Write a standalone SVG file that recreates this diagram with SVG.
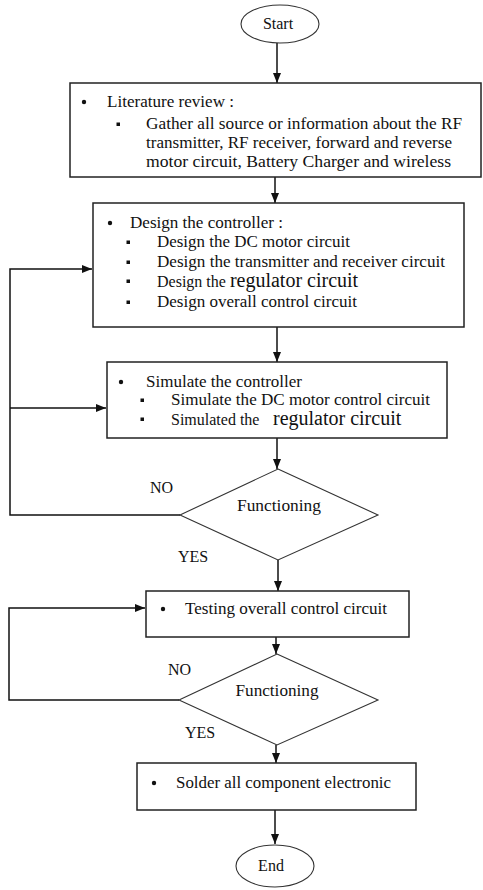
<svg xmlns="http://www.w3.org/2000/svg" width="483" height="890" viewBox="0 0 483 890">
<style>
.box{fill:#fff;stroke:#222;stroke-width:1.5}
.dia{fill:#fff;stroke:#333;stroke-width:1.1}
.term{fill:#fff;stroke:#333;stroke-width:1.1}
.t{font-family:"Liberation Serif","Times New Roman",serif;font-size:16px;fill:#111}
.big{font-size:20px}
.c{text-anchor:middle}
.ln{fill:none;stroke:#111;stroke-width:1.5}
.dot{fill:#111}
</style>
<defs>
<marker id="ah" markerUnits="userSpaceOnUse" markerWidth="10" markerHeight="10" viewBox="0 0 10 10" refX="10" refY="5" orient="auto">
<path d="M0,1 L10,5 L0,9 Z" fill="#111"/>
</marker>
</defs>
<rect width="483" height="890" fill="#fff"/>

<g id="connectors">
<line class="ln" x1="277" y1="43" x2="277" y2="83" marker-end="url(#ah)"/>
<line class="ln" x1="275" y1="177" x2="275" y2="203" marker-end="url(#ah)"/>
<line class="ln" x1="277" y1="327" x2="277" y2="362" marker-end="url(#ah)"/>
<line class="ln" x1="277" y1="438" x2="277" y2="469" marker-end="url(#ah)"/>
<line class="ln" x1="278" y1="560" x2="278" y2="591" marker-end="url(#ah)"/>
<line class="ln" x1="276" y1="637" x2="276" y2="654" marker-end="url(#ah)"/>
<line class="ln" x1="276" y1="745" x2="276" y2="763" marker-end="url(#ah)"/>
<line class="ln" x1="275" y1="810" x2="275" y2="844" marker-end="url(#ah)"/>
<polyline class="ln" points="180,515 10,515 10,269 92,269" marker-end="url(#ah)"/>
<line class="ln" x1="10" y1="408" x2="106" y2="408" marker-end="url(#ah)"/>
<polyline class="ln" points="179,700 9,700 9,608 145,608" marker-end="url(#ah)"/>
</g>

<g id="start">
<ellipse class="term" cx="280" cy="24" rx="39" ry="19"/>
<text class="t c" x="278" y="29">Start</text>
</g>

<g id="literature">
<rect class="box" x="70" y="83" width="411" height="94"/>
<circle class="dot" cx="84" cy="102" r="2.2"/>
<text class="t" x="107" y="107" textLength="127" lengthAdjust="spacingAndGlyphs">Literature review :</text>
<rect class="dot" x="116.5" y="122.5" width="3.5" height="3.5"/>
<text class="t" x="146" y="129" textLength="316" lengthAdjust="spacingAndGlyphs">Gather all source or information about the RF</text>
<text class="t" x="146" y="148" textLength="306" lengthAdjust="spacingAndGlyphs">transmitter, RF receiver, forward and reverse</text>
<text class="t" x="146" y="167" textLength="305" lengthAdjust="spacingAndGlyphs">motor circuit, Battery Charger and wireless</text>
</g>

<g id="design">
<rect class="box" x="93" y="203" width="371" height="124"/>
<circle class="dot" cx="110" cy="223" r="2.2"/>
<text class="t" x="130" y="228" textLength="153" lengthAdjust="spacingAndGlyphs">Design the controller :</text>
<rect class="dot" x="126.5" y="240.5" width="3.5" height="3.5"/>
<text class="t" x="157" y="247" textLength="193" lengthAdjust="spacingAndGlyphs">Design the DC motor circuit</text>
<rect class="dot" x="126.5" y="260.5" width="3.5" height="3.5"/>
<text class="t" x="157" y="267" textLength="288" lengthAdjust="spacingAndGlyphs">Design the transmitter and receiver circuit</text>
<rect class="dot" x="126.5" y="279.5" width="3.5" height="3.5"/>
<text class="t" x="157" y="287">Design the <tspan class="big">regulator circuit</tspan></text>
<rect class="dot" x="126.5" y="300.5" width="3.5" height="3.5"/>
<text class="t" x="157" y="307" textLength="200" lengthAdjust="spacingAndGlyphs">Design overall control circuit</text>
</g>

<g id="simulate">
<rect class="box" x="107" y="362" width="340" height="76"/>
<circle class="dot" cx="121" cy="382" r="2.2"/>
<text class="t" x="146" y="387" textLength="156" lengthAdjust="spacingAndGlyphs">Simulate the controller</text>
<rect class="dot" x="140.5" y="398.5" width="3.5" height="3.5"/>
<text class="t" x="171" y="405" textLength="259" lengthAdjust="spacingAndGlyphs">Simulate the DC motor control circuit</text>
<rect class="dot" x="140.5" y="417.5" width="3.5" height="3.5"/>
<text class="t" x="171" y="425">Simulated the <tspan class="big" x="273">regulator circuit</tspan></text>
</g>

<g id="decision1">
<polygon class="dia" points="278,469 378,515 278,560 180,515"/>
<text class="t c" x="279" y="511" textLength="84" lengthAdjust="spacingAndGlyphs">Functioning</text>
<text class="t" x="150" y="493">NO</text>
<text class="t" x="178" y="562">YES</text>
</g>

<g id="testing">
<rect class="box" x="146" y="591" width="263" height="46"/>
<circle class="dot" cx="163" cy="609" r="2.2"/>
<text class="t" x="185" y="614" textLength="202" lengthAdjust="spacingAndGlyphs">Testing overall control circuit</text>
</g>

<g id="decision2">
<polygon class="dia" points="277,654 378,700 277,745 179,700"/>
<text class="t c" x="277" y="696" textLength="83" lengthAdjust="spacingAndGlyphs">Functioning</text>
<text class="t" x="168" y="675">NO</text>
<text class="t" x="185" y="738">YES</text>
</g>

<g id="solder">
<rect class="box" x="137" y="763" width="279" height="47"/>
<circle class="dot" cx="154" cy="783" r="2.2"/>
<text class="t" x="176" y="788" textLength="215" lengthAdjust="spacingAndGlyphs">Solder all component electronic</text>
</g>

<g id="end">
<ellipse class="term" cx="275" cy="866" rx="39" ry="21"/>
<text class="t c" x="271" y="871">End</text>
</g>
</svg>
